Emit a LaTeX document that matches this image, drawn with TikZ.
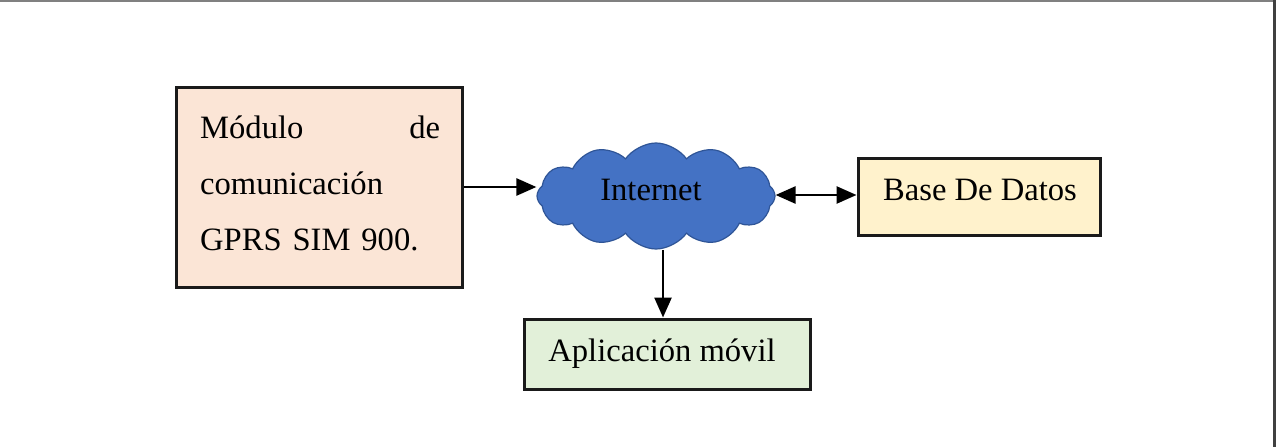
\documentclass[tikz,border=0pt]{standalone}
\usepackage{fontspec}
\setmainfont{Liberation Serif}
\usetikzlibrary{shapes.symbols,arrows.meta}
\definecolor{peach}{HTML}{FBE5D6}
\definecolor{cream}{HTML}{FFF2CC}
\definecolor{mint}{HTML}{E2F0D9}
\definecolor{cloudblue}{HTML}{4472C4}
\definecolor{cloudedge}{HTML}{2F5597}
\definecolor{edge}{HTML}{1A1A1A}
\tikzset{
  boxstyle/.style={draw=edge, line width=3pt, rectangle, inner sep=0pt},
  lbl/.style={font=\fontsize{32.6}{40}\selectfont, inner sep=0pt, text=black},
  conn/.style={line width=2.6pt, -{Triangle[length=20pt,width=17pt]}},
  conn2/.style={line width=2.6pt, {Triangle[length=20pt,width=17pt]}-{Triangle[length=20pt,width=17pt]}}
}
\begin{document}
\begin{tikzpicture}[x=1pt,y=-1pt]
\useasboundingbox (0,0) rectangle (1276,447);
\fill[white] (0,0) rectangle (1276,447);
% frame
\draw[gray, line width=2pt] (0,1) -- (1274,1);
\draw[black!75, line width=3pt] (1274,0) -- (1274,447);
% Modulo box
\node[boxstyle, fill=peach, minimum width=286pt, minimum height=200pt] (mod) at (319,187) {};
\node[lbl, anchor=base west, text width=240pt, align=left] (modtxt) at (200,138) {%
  \makebox[240pt][s]{Módulo\hfill de}\\[16pt]
  comunicación\\[16pt]
  GPRS SIM 900.};
% Cloud
\node[cloud, cloud puffs=12, cloud puff arc=110, aspect=2.3, draw=cloudedge, line width=1.2pt, fill=cloudblue,
      minimum width=238pt, minimum height=106pt, inner sep=0pt] (cloud) at (656,196) {};
\node[lbl] (inettxt) at (651,190) {Internet};
% Base de datos
\node[boxstyle, fill=cream, minimum width=242pt, minimum height=77pt] (base) at (979,196.5) {};
\node[lbl] (basetxt) at (980,190) {Base De Datos};
% Aplicacion movil
\node[boxstyle, fill=mint, minimum width=286pt, minimum height=70pt] (app) at (667,354) {};
\node[lbl] (apptxt) at (662,354) {Aplicación móvil};
% connectors
\draw[conn] (mod.east |- 0,187) -- (cloud.west |- 0,187);
\draw[conn2] (cloud.east |- 0,195) -- (base.west |- 0,195);
\draw[conn] (663,250) -- (app.north -| 663,0);
\end{tikzpicture}
\end{document}
